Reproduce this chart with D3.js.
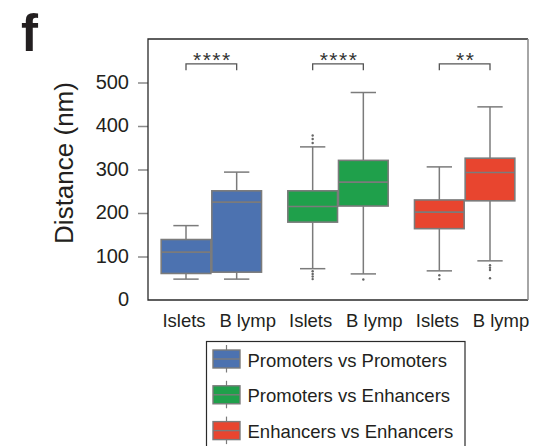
<!DOCTYPE html>
<html>
<head>
<meta charset="utf-8">
<script src="https://cdn.jsdelivr.net/npm/d3@7"></script>
<style>
    body { margin: 0; background: #fff; }
    svg { display: block; font-family: "Liberation Sans", Arial, sans-serif; }
</style>
</head>
<body>
<div id="chart"></div>
<script>
// data (nm)
const groups = ['Promoters vs Promoters', 'Promoters vs Enhancers', 'Enhancers vs Enhancers'];
const tissues = ['Islets', 'B lymp'];
const colors = ['#4c72b0', '#1fa04b', '#e8452f'];
const whiskerLow = [[48, 48], [72, 60], [67, 90]];
const q1 = [[61, 64], [179, 216], [164, 228]];
const medians = [[110, 225], [215, 271], [202, 293]];
const q3 = [[139, 251], [251, 321], [230, 326]];
const whiskerHigh = [[171, 294], [352, 477], [306, 444]];
const outliers = [
    [[], []],
    [[361, 370, 378, 66, 60, 54, 48], [47]],
    [[57, 48], [80, 74, 69, 50]],
];
const stars = ['****', '****', '**'];
const yTicks = [0, 100, 200, 300, 400, 500];

const width = 539;
const height = 446;
const frame = { left: 148, right: 528, top: 39, bottom: 300 };
const edge = '#7b7b7b';
const bracketLevel = 543; // in data units
const bracketLeg = 528;

const svg = d3.select('#chart')
    .append('svg')
    .attr('width', width)
    .attr('height', height);

// Scales
const x = d3.scaleBand()
    .domain(d3.range(groups.length))
    .range([frame.left, frame.right]);

const xSub = d3.scaleBand()
    .domain(tissues)
    .range([x.bandwidth() * 0.1, x.bandwidth() * 0.9]);

const y = d3.scaleLinear()
    .domain([0, 600])
    .range([frame.bottom, frame.top]);

// yAxis
const yAxis = d3.axisLeft(y)
    .tickValues(yTicks)
    .tickSizeInner(10)
    .tickSizeOuter(0)
    .tickPadding(9);

const yG = svg.append('g')
    .attr('transform', `translate(${frame.left},0)`)
    .call(yAxis);
yG.select('.domain').remove();
yG.selectAll('.tick line')
    .attr('stroke', '#8a8a8a')
    .attr('stroke-width', 1.5)
    .filter((d) => d === 0)
    .remove();
yG.selectAll('.tick text')
    .attr('font-size', 20)
    .attr('fill', '#231f20')
    .attr('dy', '0.28em');

// Axis title
svg.append('text')
    .attr('transform', 'translate(73,163) rotate(-90)')
    .attr('text-anchor', 'middle')
    .attr('font-size', 26)
    .attr('fill', '#231f20')
    .text('Distance (nm)');

// Panel letter
svg.append('text')
    .attr('x', 21)
    .attr('y', 51)
    .attr('font-size', 51)
    .attr('font-weight', 'bold')
    .attr('fill', '#231f20')
    .text('f');

// Boxes
groups.forEach((group, gi) => {
    const g = svg.append('g')
        .attr('transform', `translate(${x(gi)},0)`);

    tissues.forEach((tissue, ti) => {
        const bx = xSub(tissue) + 0.5;
        const bw = xSub.bandwidth() - 1;
        const cx = xSub(tissue) + xSub.bandwidth() / 2;
        const cap = xSub.bandwidth() / 4;

        // whiskers
        g.append('line')
            .attr('x1', cx).attr('x2', cx)
            .attr('y1', y(whiskerLow[gi][ti])).attr('y2', y(q1[gi][ti]))
            .attr('stroke', edge).attr('stroke-width', 1.5);
        g.append('line')
            .attr('x1', cx).attr('x2', cx)
            .attr('y1', y(q3[gi][ti])).attr('y2', y(whiskerHigh[gi][ti]))
            .attr('stroke', edge).attr('stroke-width', 1.5);
        [whiskerLow[gi][ti], whiskerHigh[gi][ti]].forEach((v) => {
            g.append('line')
                .attr('x1', cx - cap).attr('x2', cx + cap)
                .attr('y1', y(v)).attr('y2', y(v))
                .attr('stroke', edge).attr('stroke-width', 1.5);
        });

        // box
        g.append('rect')
            .attr('x', bx)
            .attr('y', y(q3[gi][ti]))
            .attr('width', bw)
            .attr('height', y(q1[gi][ti]) - y(q3[gi][ti]))
            .attr('fill', colors[gi])
            .attr('stroke', edge)
            .attr('stroke-width', 1.6);

        // median
        g.append('line')
            .attr('x1', bx).attr('x2', bx + bw)
            .attr('y1', y(medians[gi][ti])).attr('y2', y(medians[gi][ti]))
            .attr('stroke', edge).attr('stroke-width', 1.6);

        // outliers
        g.selectAll(null)
            .data(outliers[gi][ti])
            .enter()
            .append('circle')
            .attr('cx', cx)
            .attr('cy', (d) => y(d))
            .attr('r', 1.2)
            .attr('fill', '#666');

        // category label
        g.append('text')
            .attr('x', cx + (ti === 0 ? -2 : 11))
            .attr('y', 327)
            .attr('text-anchor', 'middle')
            .attr('font-size', 18.5)
            .attr('fill', '#231f20')
            .text(tissue);
    });

    // significance bracket
    const x1 = xSub(tissues[0]) + xSub.bandwidth() / 2;
    const x2 = xSub(tissues[1]) + xSub.bandwidth() / 2;
    g.append('path')
        .attr('d', `M${x1},${y(bracketLeg)}V${y(bracketLevel)}H${x2}V${y(bracketLeg)}`)
        .attr('fill', 'none')
        .attr('stroke', '#555')
        .attr('stroke-width', 1.3);
    g.append('text')
        .attr('x', (x1 + x2) / 2 + 1)
        .attr('y', y(bracketLevel) + 3)
        .attr('text-anchor', 'middle')
        .attr('font-size', 21)
        .attr('letter-spacing', 1.5)
        .attr('fill', '#333')
        .text(stars[gi]);
});

// Frame
svg.append('path')
    .attr('d', `M${frame.right},${frame.top}H${frame.left}V${frame.bottom}H${frame.right}`)
    .attr('fill', 'none')
    .attr('stroke', '#2a2a2a')
    .attr('stroke-width', 1.3);
svg.append('line')
    .attr('x1', frame.right).attr('x2', frame.right)
    .attr('y1', frame.top).attr('y2', frame.bottom)
    .attr('stroke', '#888')
    .attr('stroke-width', 1.5);

// Legend
const legend = svg.append('g')
    .attr('transform', 'translate(206.5,341.5)');

legend.append('rect')
    .attr('width', 258.5)
    .attr('height', 130)
    .attr('fill', '#fff')
    .attr('stroke', '#2a2a2a')
    .attr('stroke-width', 1.2);

groups.forEach((group, gi) => {
    const row = legend.append('g')
        .attr('transform', `translate(0,${17.5 + gi * 35.8})`);
    row.append('line')
        .attr('x1', 20).attr('x2', 20)
        .attr('y1', -14).attr('y2', 13.5)
        .attr('stroke', edge).attr('stroke-width', 1.2);
    row.append('rect')
        .attr('x', 6.5)
        .attr('y', -9)
        .attr('width', 27)
        .attr('height', 18)
        .attr('fill', colors[gi])
        .attr('stroke', edge)
        .attr('stroke-width', 1.4);
    row.append('line')
        .attr('x1', 6.5).attr('x2', 33.5)
        .attr('y1', 0).attr('y2', 0)
        .attr('stroke', edge).attr('stroke-width', 1.4);
    row.append('text')
        .attr('x', 41)
        .attr('y', 7.5)
        .attr('font-size', 18.5)
        .attr('fill', '#231f20')
        .text(group);
});
</script>
</body>
</html>
